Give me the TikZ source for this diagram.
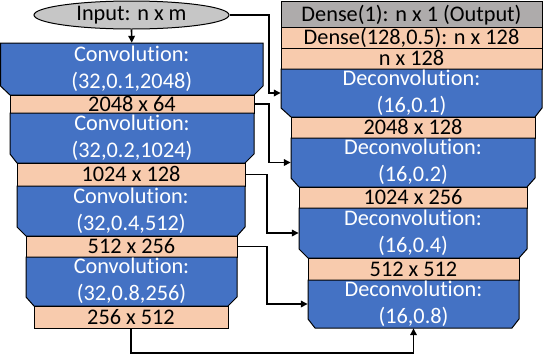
\documentclass[tikz,border=0pt]{standalone}
\usepackage{fontspec}
\setmainfont{Carlito}[Ligatures={NoCommon}]
\usetikzlibrary{arrows.meta,shapes.geometric}
\definecolor{convblue}{HTML}{4472C4}
\definecolor{peach}{HTML}{F8CBAD}
\definecolor{greyA}{HTML}{AEABAB}
\definecolor{greyB}{HTML}{C6C6C6}
\tikzset{
  outline/.style={draw=black, line width=1pt, line join=miter},
  convshape/.style={outline, fill=convblue},
  anchorbox/.style={inner sep=0pt},
  convtext/.style={inner sep=0pt, text=white, align=center, font=\fontsize{22.3}{27}\selectfont},
  sizebox/.style={outline, fill=peach, inner sep=0pt, text height=15pt, text depth=1pt, font=\fontsize{22.3}{27}\selectfont},
  outbox/.style={sizebox, fill=greyA},
  inell/.style={ellipse, outline, fill=greyB, inner sep=0pt, minimum width=195pt, minimum height=28pt, font=\fontsize{22.3}{27}\selectfont},
  conn/.style={draw=black, line width=1.6pt, -{Triangle[length=7pt,width=6.5pt]}},
}
% name, x1, x2, top, bottom, bottom-left x, bottom-right x, text
\newcommand\chambox[8]{%
  \path[convshape] (#2,#4) -- (#3,#4) -- (#3,#5-9) -- (#7,#5) -- (#6,#5) -- (#2,#5-9) -- cycle;
  \node[anchorbox, minimum width={#3-#2}, minimum height={#5-#4}] (#1) at ({(#2+#3)/2},{(#4+#5)/2}) {};
  \node[convtext] (#1t) at ({(#2+#3)/2},{(#4+#5)/2-0.5}) {#8};
}
% name, x1, x2, top, bottom, style, text
\newcommand\flatbox[7]{%
  \node[#6, minimum width={#3-#2}, minimum height={#5-#4}] (#1) at ({(#2+#3)/2},{(#4+#5)/2}) {#7};
}
\begin{document}
\begin{tikzpicture}[x=1pt,y=-1pt]
\useasboundingbox (0,0) rectangle (544,354);
% left column
\node[inell] (in) at (131.5,15) {Input: n x m};
\chambox{c1}{0.5}{263}{43}{95}{10}{254}{Convolution:\\(32,0.1,2048)}
\flatbox{s1}{10}{254}{95}{113}{sizebox}{2048 x 64}
\chambox{c2}{10}{254}{113}{163}{17}{245}{Convolution:\\(32,0.2,1024)}
\flatbox{s2}{17}{245}{163}{186}{sizebox}{1024 x 128}
\chambox{c3}{17}{245}{186}{236}{26}{237}{Convolution:\\(32,0.4,512)}
\flatbox{s3}{26}{237}{236}{257}{sizebox}{512 x 256}
\chambox{c4}{26}{237}{257}{306}{34}{228}{Convolution:\\(32,0.8,256)}
\flatbox{s4}{34}{228}{306}{328}{sizebox}{256 x 512}
% right column
\flatbox{o1}{281}{542}{1}{27}{outbox}{Dense(1): n x 1 (Output)}
\flatbox{o2}{281}{542}{27}{48}{sizebox}{Dense(128,0.5): n x 128}
\flatbox{o3}{281}{542}{48}{69}{sizebox}{n x 128}
\chambox{d1}{281}{542}{69}{117}{291}{535}{Deconvolution:\\(16,0.1)}
\flatbox{r1}{291}{535}{117}{138}{sizebox}{2048 x 128}
\chambox{d2}{291}{535}{138}{187}{299}{527}{Deconvolution:\\(16,0.2)}
\flatbox{r2}{299}{527}{187}{208}{sizebox}{1024 x 256}
\chambox{d3}{299}{527}{208}{258}{308}{519}{Deconvolution:\\(16,0.4)}
\flatbox{r3}{308}{519}{258}{280}{sizebox}{512 x 512}
\chambox{d4}{308}{519}{280}{328}{315}{512}{Deconvolution:\\(16,0.8)}
% connectors
\coordinate (va) at (269,0);
\coordinate (vb) at (267,0);
\coordinate (low) at (0,353);
\draw[conn] (in.south) -- (c1.north);
\draw[conn] (in.east) -- (in.east -| va) |- (d1.west);
\draw[conn] (s1.east) -- (s1.east -| va) |- (d2.west);
\draw[conn] (s2.east) -- (s2.east -| vb) |- (d3.west);
\draw[conn] (s3.east) -- (s3.east -| vb) |- (d4.west);
\draw[conn] (s4.south) -- (s4.south |- low) -| (d4.south);
\end{tikzpicture}
\end{document}
